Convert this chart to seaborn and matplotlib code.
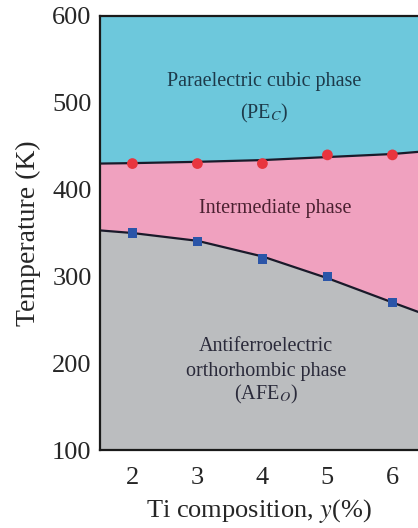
import matplotlib
matplotlib.use("Agg")
import matplotlib.pyplot as plt
import seaborn as sns
import pandas as pd

# Data
ti_comp = [2, 3, 4, 5, 6]
t_upper_pts = [430, 430, 430, 440, 440]   # PE_C -> intermediate (red circles)
t_lower_pts = [350, 340, 320, 300, 270]   # intermediate -> AFE_O (blue squares)

boundary_x = [1.5, 2, 3, 4, 5, 6, 6.4]
boundary_upper = [430, 430.5, 432, 434, 437.5, 441, 443.5]
boundary_lower = [353, 350, 341, 323, 298, 270, 259]

x_ticks = [2, 3, 4, 5, 6]
y_ticks = [100, 200, 300, 400, 500, 600]

sns.set_theme(style="white")
plt.rcParams['font.family'] = ['Liberation Serif', 'DejaVu Serif']
plt.rcParams['mathtext.fontset'] = 'stix'

fig = plt.figure(figsize=(4.18, 5.28), dpi=100)
ax = fig.add_axes([0.239, 0.1477, 0.762, 0.822])

xmin, xmax = 1.5, 6.4
ymin, ymax = 100, 600
cyan = '#6dc8dc'
pink = '#f0a1bf'
gray = '#bbbdbf'

ax.fill_between(boundary_x, boundary_upper, ymax, color=cyan, lw=0)
ax.fill_between(boundary_x, boundary_lower, boundary_upper, color=pink, lw=0)
ax.fill_between(boundary_x, ymin, boundary_lower, color=gray, lw=0)

df_b = pd.DataFrame({'x': boundary_x, 'up': boundary_upper, 'lo': boundary_lower})
sns.lineplot(data=df_b, x='x', y='up', ax=ax, color='#1a1a2a', lw=1.6)
sns.lineplot(data=df_b, x='x', y='lo', ax=ax, color='#1a1a2a', lw=1.6)

df_p = pd.DataFrame({'x': ti_comp, 'up': t_upper_pts, 'lo': t_lower_pts})
sns.scatterplot(data=df_p, x='x', y='up', ax=ax, color='#e8353f', s=60,
                marker='o', edgecolor='none', zorder=5)
sns.scatterplot(data=df_p, x='x', y='lo', ax=ax, color='#2b55a8', s=45,
                marker='s', edgecolor='none', zorder=5)

ax.set_xlim(xmin, xmax)
ax.set_ylim(ymin, ymax)
ax.set_xticks(x_ticks)
ax.set_yticks(y_ticks)
ax.tick_params(axis='x', direction='in', length=8, width=1.5, top=True,
               bottom=True, labelsize=19, pad=12, color='#1a1a1a')
ax.tick_params(axis='y', length=0, labelsize=19, pad=6)
for side in ['left', 'bottom', 'top']:
    ax.spines[side].set_color('#1a1a1a')
    ax.spines[side].set_linewidth(1.6)
ax.spines['right'].set_visible(False)

ax.set_xlabel('Ti composition, $\\mathit{y}$(%)', fontsize=19, labelpad=6)
ax.set_ylabel('Temperature (K)', fontsize=20, labelpad=8)

tc = '#2a2a3a'
fs = 14.5
ax.text(4.03, 524, 'Paraelectric cubic phase', ha='center', va='center', fontsize=fs, color='#1d3a4a')
ax.text(4.03, 488, '(PE$_{\\mathit{C}}$)', ha='center', va='center', fontsize=fs, color='#1d3a4a')
ax.text(4.2, 378, 'Intermediate phase', ha='center', va='center', fontsize=fs, color='#4a2030')
ax.text(4.06, 219, 'Antiferroelectric', ha='center', va='center', fontsize=fs, color=tc)
ax.text(4.06, 190, 'orthorhombic phase', ha='center', va='center', fontsize=fs, color=tc)
ax.text(4.06, 164, '(AFE$_{\\mathit{O}}$)', ha='center', va='center', fontsize=fs, color=tc)

fig.savefig('out.png', dpi=100)
